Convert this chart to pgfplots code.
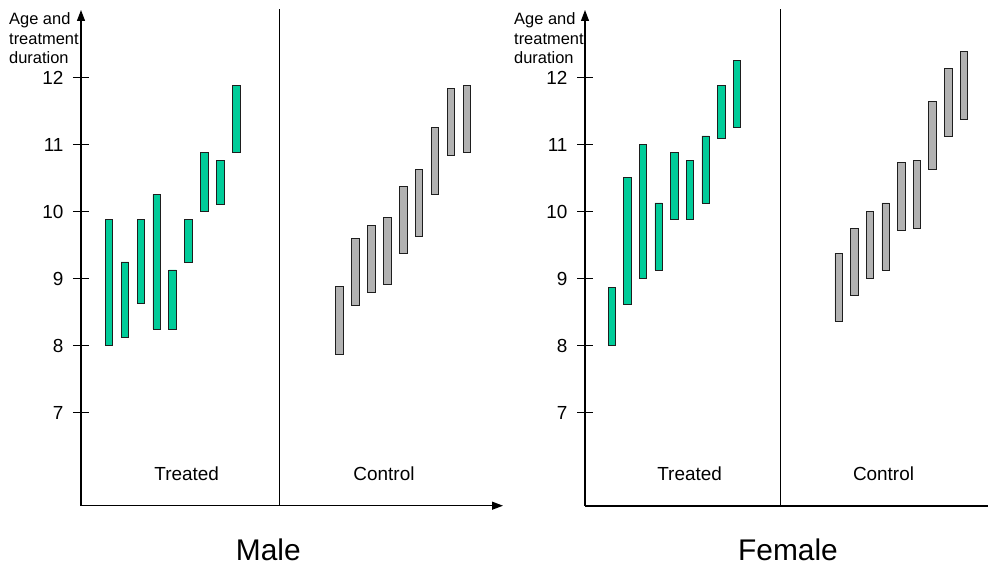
\documentclass[border=0pt]{standalone}
\usepackage{fontspec}
\setmainfont{Liberation Sans}
\usepackage{pgfplots}
\usepackage{pgfplotstable}
\pgfplotsset{compat=1.18}
\usetikzlibrary{arrows.meta}

\definecolor{tgreen}{RGB}{0,204,153}
\definecolor{cgray}{RGB}{178,178,178}
\definecolor{edge}{RGB}{30,30,30}

% bars: x slot, lower end, upper end
\pgfplotstableread{
x low high
1 8.00 9.88
2 8.12 9.25
3 8.63 9.88
4 8.25 10.26
5 8.25 9.13
6 9.25 9.88
7 10.01 10.88
8 10.11 10.76
9 10.88 11.89
}\maletreated
\pgfplotstableread{
x low high
15.5 7.87 8.88
16.5 8.60 9.60
17.5 8.79 9.80
18.5 8.92 9.92
19.5 9.38 10.38
20.5 9.63 10.63
21.5 10.26 11.26
22.5 10.84 11.84
23.5 10.89 11.89
}\malecontrol
\pgfplotstableread{
x low high
1 8.00 8.87
2 8.62 10.51
3 9.00 11.01
4 9.13 10.13
5 9.88 10.88
6 9.88 10.76
7 10.13 11.13
8 11.10 11.89
9 11.26 12.26
}\femaletreated
\pgfplotstableread{
x low high
15.5 8.37 9.38
16.5 8.75 9.75
17.5 9.00 10.00
18.5 9.13 10.13
19.5 9.72 10.73
20.5 9.75 10.76
21.5 10.63 11.64
22.5 11.13 12.14
23.5 11.38 12.39
}\femalecontrol

\pgfplotsset{
  panel/.style={
    scale only axis, height=495.7bp, ymin=5.612, ymax=13.01,
    anchor=south west, ybar stacked, bar width=7.5bp, clip=false,
    xtick=\empty,
  },
  frame/.style={
    axis x line=bottom, axis y line=left,
    ytick={7,...,12}, ytick align=center, major tick length=16bp,
    ytick style={black, line width=1.2bp},
    axis line style={black, line width=1.2bp},
    y axis line style={-{Triangle[length=11bp,width=8bp]}},
    yticklabel style={font=\fontsize{19}{23}\selectfont, xshift=-6bp},
    /pgf/number format/assume math mode=true,
  },
  leftgeo/.style={at={(81bp,-505.7bp)}, xmin=-0.76, xmax=25.78, width=422bp},
  rightgeo/.style={at={(585bp,-505.7bp)}, xmin=-0.71, xmax=25.04, width=403bp},
  gap/.style={draw=none, fill=none, forget plot},
  bar/.style={fill=#1, draw=edge, line width=0.8bp},
}

\begin{document}
\begin{tikzpicture}
\path[use as bounding box] (0,0) rectangle (989bp,-567bp);

% Male
\begin{axis}[panel, leftgeo, frame,
    x axis line style={-{Triangle[length=11bp,width=8bp]}}]
  \addplot[gap] table[x=x, y=low] {\maletreated};
  \addplot[bar=tgreen] table[x=x, y expr=\thisrow{high}-\thisrow{low}] {\maletreated};
  \draw[black, line width=1.1bp] (axis cs:11.72,5.612) -- (axis cs:11.72,13.02);
\end{axis}
\begin{axis}[panel, leftgeo, hide axis]
  \addplot[gap] table[x=x, y=low] {\malecontrol};
  \addplot[bar=cgray] table[x=x, y expr=\thisrow{high}-\thisrow{low}] {\malecontrol};
\end{axis}

% Female
\begin{axis}[panel, rightgeo, frame,
    x axis line style={-, line width=2bp}]
  \addplot[gap] table[x=x, y=low] {\femaletreated};
  \addplot[bar=tgreen] table[x=x, y expr=\thisrow{high}-\thisrow{low}] {\femaletreated};
  \draw[black, line width=1.1bp] (axis cs:11.77,5.612) -- (axis cs:11.77,13.02);
\end{axis}
\begin{axis}[panel, rightgeo, hide axis]
  \addplot[gap] table[x=x, y=low] {\femalecontrol};
  \addplot[bar=cgray] table[x=x, y expr=\thisrow{high}-\thisrow{low}] {\femalecontrol};
\end{axis}

\begin{scope}[every node/.style={inner sep=0pt, anchor=base}]
  \foreach \x/\t in {186.7/Treated, 384/Control, 689.6/Treated, 883.5/Control}
    \node[font=\fontsize{19}{23}\selectfont] at (\x bp,-480.7bp) {\t};
  \node[font=\fontsize{30}{36}\selectfont] at (268.3bp,-560.7bp) {Male};
  \node[font=\fontsize{30}{36}\selectfont] at (788bp,-560.7bp) {Female};
  \foreach \x in {9,514} {
    \node[font=\fontsize{16.5}{20}\selectfont, anchor=base west] at (\x bp,-24.3bp) {Age and};
    \node[font=\fontsize{16.5}{20}\selectfont, anchor=base west] at (\x bp,-44.5bp) {treatment};
    \node[font=\fontsize{16.5}{20}\selectfont, anchor=base west] at (\x bp,-63.8bp) {duration};
  }
\end{scope}
\end{tikzpicture}
\end{document}
